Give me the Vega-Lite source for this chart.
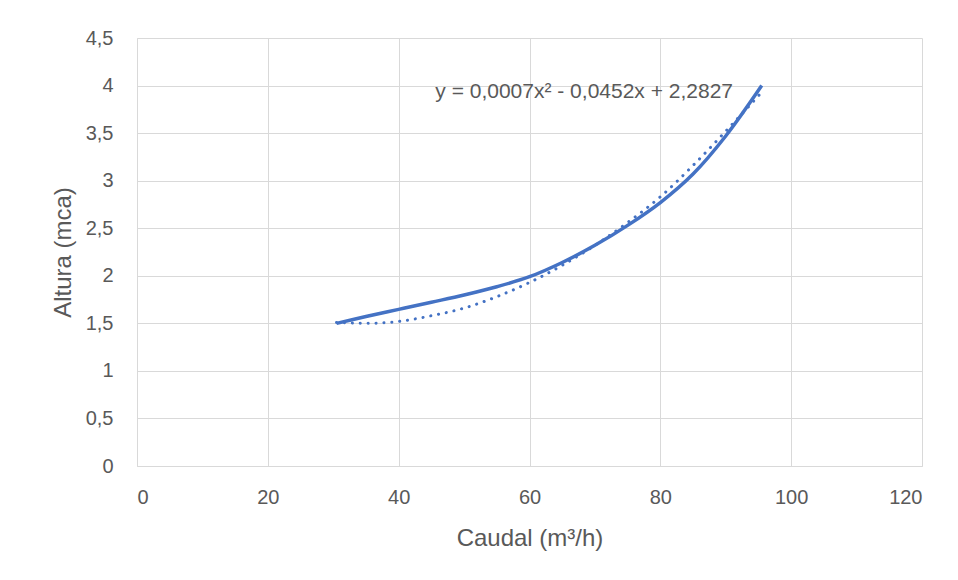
{
  "$schema": "https://vega.github.io/schema/vega-lite/v6.json",
  "width": 785,
  "height": 428,
  "autosize": {"type": "none"},
  "padding": {"left": 137, "top": 38, "right": 36, "bottom": 114},
  "background": "white",
  "config": {
    "view": {"stroke": null},
    "font": "Liberation Sans",
    "axis": {
      "gridColor": "#d9d9d9",
      "gridWidth": 1,
      "domainColor": "#d9d9d9",
      "ticks": false,
      "labelColor": "#595959",
      "titleColor": "#595959",
      "labelFontSize": 20,
      "titleFontSize": 24,
      "titleFontWeight": "normal",
      "labelFont": "Liberation Sans",
      "titleFont": "Liberation Sans"
    }
  },
  "datasets": {
    "curva": [
      {"caudal": 30.5, "altura": 1.5},
      {"caudal": 35, "altura": 1.572},
      {"caudal": 40, "altura": 1.647},
      {"caudal": 45, "altura": 1.722},
      {"caudal": 50, "altura": 1.798},
      {"caudal": 55, "altura": 1.885},
      {"caudal": 60, "altura": 1.99},
      {"caudal": 65, "altura": 2.14},
      {"caudal": 70, "altura": 2.32},
      {"caudal": 75, "altura": 2.53},
      {"caudal": 80, "altura": 2.77},
      {"caudal": 85, "altura": 3.07},
      {"caudal": 90, "altura": 3.47},
      {"caudal": 95.5, "altura": 4.0}
    ],
    "tendencia": [
      {"caudal": 30.5, "altura": 1.51},
      {"caudal": 35, "altura": 1.5},
      {"caudal": 40, "altura": 1.52},
      {"caudal": 45, "altura": 1.58},
      {"caudal": 50, "altura": 1.66},
      {"caudal": 55, "altura": 1.78},
      {"caudal": 60, "altura": 1.93},
      {"caudal": 65, "altura": 2.11},
      {"caudal": 70, "altura": 2.32},
      {"caudal": 75, "altura": 2.56},
      {"caudal": 80, "altura": 2.83},
      {"caudal": 85, "altura": 3.16},
      {"caudal": 90, "altura": 3.52},
      {"caudal": 95.5, "altura": 3.93}
    ],
    "etiqueta": [
      {"caudal": 45.6, "altura": 3.93, "texto": "y = 0,0007x² - 0,0452x + 2,2827"}
    ]
  },
  "layer": [
    {
      "data": {"name": "curva"},
      "mark": {"type": "line", "color": "#4472C4", "strokeWidth": 3.5, "interpolate": "catmull-rom"},
      "encoding": {
        "x": {
          "field": "caudal", "type": "quantitative",
          "scale": {"domain": [0, 120], "nice": false},
          "axis": {"values": [0, 20, 40, 60, 80, 100, 120], "title": "Caudal (m³/h)", "labelPadding": 21, "titlePadding": 19,
                   "labelExpr": "replace(format(datum.value, ''), '.', ',')"}
        },
        "y": {
          "field": "altura", "type": "quantitative",
          "scale": {"domain": [0, 4.5], "nice": false},
          "axis": {"values": [0, 0.5, 1, 1.5, 2, 2.5, 3, 3.5, 4, 4.5], "title": "Altura (mca)", "labelPadding": 24, "titlePadding": 10,
                   "labelExpr": "replace(format(datum.value, ''), '.', ',')"}
        }
      }
    },
    {
      "data": {"name": "tendencia"},
      "mark": {"type": "line", "color": "#4472C4", "strokeWidth": 3, "strokeDash": [0.1, 7.8], "strokeCap": "round", "interpolate": "monotone"},
      "encoding": {
        "x": {"field": "caudal", "type": "quantitative"},
        "y": {"field": "altura", "type": "quantitative"}
      }
    },
    {
      "data": {"name": "etiqueta"},
      "mark": {"type": "text", "align": "left", "baseline": "middle", "fontSize": 21, "color": "#595959", "font": "Liberation Sans"},
      "encoding": {
        "x": {"field": "caudal", "type": "quantitative"},
        "y": {"field": "altura", "type": "quantitative"},
        "text": {"field": "texto"}
      }
    }
  ]
}
